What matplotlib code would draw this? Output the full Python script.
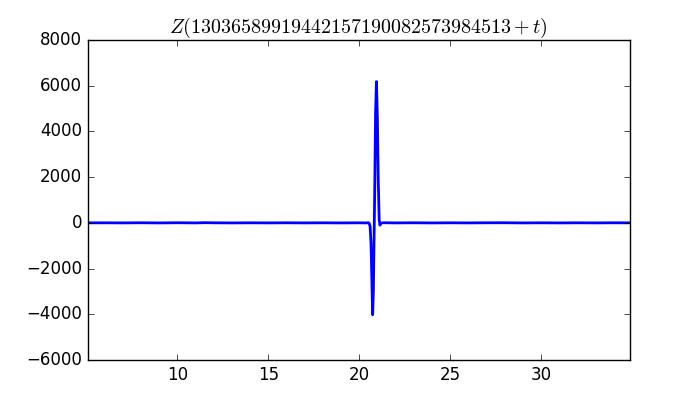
import matplotlib
matplotlib.use('Agg')
import matplotlib.pyplot as plt

plt.style.use('classic')
plt.rcParams['mathtext.fontset'] = 'cm'

# values (Z(T + t) near a very large t)
t = [5.05, 6.0, 7.0, 8.0, 9.0, 10.0, 11.0, 11.5, 12.0, 13.0, 14.0, 15.0,
     16.0, 17.0, 18.0, 19.0, 20.0, 20.4, 20.5, 20.55, 20.6, 20.65, 20.7,
     20.74, 20.78, 20.82, 20.86, 20.9, 20.95, 21.0, 21.05, 21.1, 21.14,
     21.2, 21.3, 22.0, 23.0, 24.0, 25.0, 26.0, 27.0, 28.0, 29.0, 30.0,
     31.0, 32.0, 33.0, 34.0, 34.9]
z = [0, 2, -2, 4, -3, 5, -2, 8, 2, -3, 2, -2,
     3, -2, 2, -3, 2, -4, 10, -20, -150, -900, -2600,
     -4020, -3000, -600, 1800, 4800, 6180, 4600, 1800, 150, -100,
     -20, 5, -2, 3, -3, 2, -2, 3, 5, -3, 2,
     -3, 2, -2, 3, 0]

title = r'$Z(13036589919442157190082573984513+t)$'

fig = plt.figure(figsize=(7, 4), dpi=100)
ax = fig.add_subplot(111)
ax.plot(t, z, color='b', linewidth=2)
ax.set_xlim(5.05, 34.9)
ax.set_ylim(-6000, 8000)
ax.set_title(title)
fig.savefig('out.png', dpi=100)
